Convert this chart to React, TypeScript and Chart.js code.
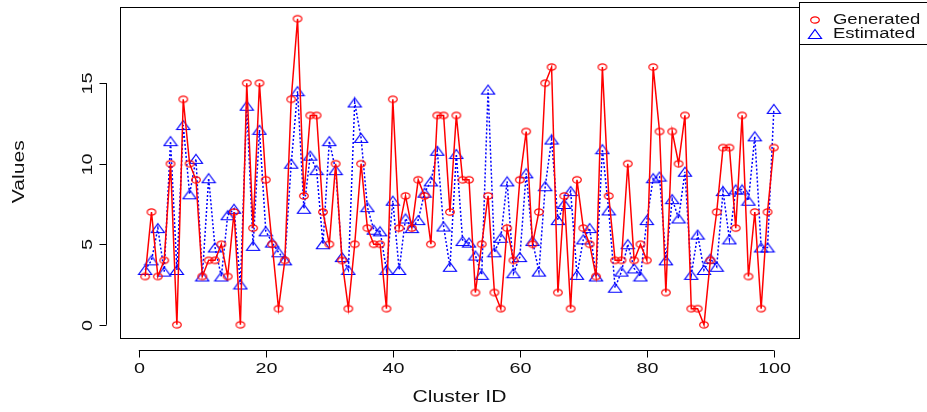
import React, { useEffect, useRef } from "react";
import { Chart, registerables } from "chart.js";

Chart.register(...registerables);

const clusterIds = [
  1, 2, 3, 4, 5, 6, 7, 8, 9, 10, 11, 12, 13, 14, 15, 16, 17, 18, 19, 20,
  21, 22, 23, 24, 25, 26, 27, 28, 29, 30, 31, 32, 33, 34, 35, 36, 37, 38, 39, 40,
  41, 42, 43, 44, 45, 46, 47, 48, 49, 50, 51, 52, 53, 54, 55, 56, 57, 58, 59, 60,
  61, 62, 63, 64, 65, 66, 67, 68, 69, 70, 71, 72, 73, 74, 75, 76, 77, 78, 79, 80,
  81, 82, 83, 84, 85, 86, 87, 88, 89, 90, 91, 92, 93, 94, 95, 96, 97, 98, 99, 100,
];

const generated = [
  3, 7, 3, 4, 10, 0, 14, 10, 9, 3, 4, 4, 5, 3, 7, 0, 15, 6, 15, 9,
  5, 1, 4, 14, 19, 8, 13, 13, 7, 5, 10, 4, 1, 5, 10, 6, 5, 5, 1, 14,
  6, 8, 6, 9, 8, 5, 13, 13, 7, 13, 9, 9, 2, 5, 8, 2, 1, 6, 4, 9,
  12, 5, 7, 15, 16, 2, 8, 1, 9, 6, 5, 3, 16, 8, 4, 4, 10, 4, 5, 4,
  16, 12, 2, 12, 10, 13, 1, 1, 0, 4, 7, 11, 11, 6, 13, 3, 7, 1, 7, 11,
];

const estimated = [
  3.4, 4.0, 6.0, 3.3, 11.4, 3.4, 12.4, 8.1, 10.3, 3.0, 9.1, 4.8, 3.0, 6.8, 7.2, 2.5, 13.6, 4.9, 12.1, 5.8,
  5.1, 4.5, 4.0, 10.0, 14.5, 7.2, 10.5, 9.6, 5.0, 11.4, 9.6, 4.2, 3.4, 13.8, 11.6, 7.3, 5.9, 5.8, 3.4, 7.7,
  3.4, 6.6, 6.0, 6.5, 8.2, 8.9, 10.8, 6.1, 3.6, 10.6, 5.2, 5.1, 4.3, 3.1, 14.6, 4.5, 5.4, 8.9, 3.2, 4.2,
  9.4, 5.2, 3.3, 8.6, 11.5, 6.5, 7.5, 8.3, 3.1, 5.3, 6.0, 3.0, 10.9, 7.1, 2.3, 3.3, 5.0, 3.5, 3.0, 6.5,
  9.1, 9.2, 4.0, 7.8, 6.6, 9.5, 3.1, 5.6, 3.4, 4.1, 3.6, 8.3, 5.3, 8.4, 8.4, 7.7, 11.7, 4.8, 4.8, 13.4,
];

const xTicks = [0, 20, 40, 60, 80, 100];
const yTicks = [0, 5, 10, 15];
const seriesNames = ["Generated", "Estimated"];
const xTitle = "Cluster ID";
const yTitle = "Values";

const RED = "#ff0000";
const BLUE = "#0000ff";
const FONT = "'Liberation Sans', Arial, sans-serif";
const STRETCH = 1.32;

function makeCircle(color: string) {
  const c = document.createElement("canvas");
  c.width = 12;
  c.height = 10;
  const ctx = c.getContext("2d")!;
  ctx.strokeStyle = color;
  ctx.lineWidth = 1.2;
  ctx.beginPath();
  ctx.ellipse(6, 5, 4.3, 3.2, 0, 0, Math.PI * 2);
  ctx.stroke();
  return c;
}

function makeTriangle(color: string) {
  const c = document.createElement("canvas");
  c.width = 16;
  c.height = 12;
  const ctx = c.getContext("2d")!;
  ctx.strokeStyle = color;
  ctx.lineWidth = 1.2;
  ctx.beginPath();
  ctx.moveTo(8, 1.5);
  ctx.lineTo(14.5, 10.5);
  ctx.lineTo(1.5, 10.5);
  ctx.closePath();
  ctx.stroke();
  return c;
}

function stretchedText(
  ctx: CanvasRenderingContext2D,
  text: string,
  x: number,
  y: number,
  align: CanvasTextAlign,
  rotate = 0
) {
  ctx.save();
  ctx.translate(x, y);
  if (rotate) ctx.rotate(rotate);
  ctx.scale(STRETCH, 1);
  ctx.textAlign = align;
  ctx.textBaseline = "middle";
  ctx.fillText(text, 0, 0);
  ctx.restore();
}

export default function App() {
  const ref = useRef<HTMLCanvasElement>(null);

  useEffect(() => {
    const canvas = ref.current!;
    const circle = makeCircle(RED);
    const tri = makeTriangle(BLUE);
    const circleLegend = makeCircle(RED);
    const triLegend = makeTriangle(BLUE);

    const rAxes = {
      id: "rAxes",
      afterDraw(chart: any) {
        const ctx: CanvasRenderingContext2D = chart.ctx;
        const { left, right, top, bottom } = chart.chartArea;
        const xs = chart.scales.x;
        const ys = chart.scales.y;
        ctx.save();
        ctx.strokeStyle = "#000";
        ctx.fillStyle = "#111";
        ctx.lineWidth = 1;
        // box
        ctx.strokeRect(Math.round(left) + 0.5, Math.round(top) + 0.5, Math.round(right - left), Math.round(bottom - top));
        // x axis
        const ax = Math.round(bottom) + 13.5;
        ctx.beginPath();
        ctx.moveTo(xs.getPixelForValue(xTicks[0]), ax);
        ctx.lineTo(xs.getPixelForValue(xTicks[xTicks.length - 1]), ax);
        ctx.stroke();
        ctx.font = `15px ${FONT}`;
        xTicks.forEach((t) => {
          const px = Math.round(xs.getPixelForValue(t)) + 0.5;
          ctx.beginPath();
          ctx.moveTo(px, ax);
          ctx.lineTo(px, ax + 7);
          ctx.stroke();
          stretchedText(ctx, String(t), px, ax + 18, "center");
        });
        // y axis
        const ay = Math.round(left) - 13.5;
        ctx.beginPath();
        ctx.moveTo(ay, ys.getPixelForValue(yTicks[0]));
        ctx.lineTo(ay, ys.getPixelForValue(yTicks[yTicks.length - 1]));
        ctx.stroke();
        yTicks.forEach((t) => {
          const py = Math.round(ys.getPixelForValue(t)) + 0.5;
          ctx.beginPath();
          ctx.moveTo(ay, py);
          ctx.lineTo(ay - 7, py);
          ctx.stroke();
          stretchedText(ctx, String(t), ay - 19, py, "center", -Math.PI / 2);
        });
        // titles
        ctx.font = `16px ${FONT}`;
        stretchedText(ctx, xTitle, (left + right) / 2, 398, "center");
        stretchedText(ctx, yTitle, 20, (top + bottom) / 2, "center", -Math.PI / 2);
        // legend
        const lx = Math.round(right) + 0.5;
        ctx.strokeRect(lx, 2.5, 200, 42);
        ctx.font = `14px ${FONT}`;
        ctx.drawImage(circleLegend, 815 - 6, 20 - 5);
        ctx.drawImage(triLegend, 815 - 8, 34 - 6);
        stretchedText(ctx, seriesNames[0], 833, 20, "left");
        stretchedText(ctx, seriesNames[1], 833, 34, "left");
        ctx.restore();
      },
    };

    const chart = new Chart(canvas, {
      type: "line",
      data: {
        datasets: [
          {
            label: seriesNames[0],
            data: clusterIds.map((x, i) => ({ x, y: generated[i] })),
            borderColor: RED,
            borderWidth: 1.5,
            pointStyle: circle as any,
            pointRadius: 4,
            tension: 0,
          },
          {
            label: seriesNames[1],
            data: clusterIds.map((x, i) => ({ x, y: estimated[i] })),
            borderColor: BLUE,
            borderWidth: 1.5,
            borderDash: [2, 2],
            pointStyle: tri as any,
            pointRadius: 5,
            tension: 0,
          },
        ],
      },
      options: {
        animation: false,
        responsive: false,
        events: [],
        layout: { padding: { left: 120, right: 128, top: 6, bottom: 75 } },
        plugins: { legend: { display: false }, tooltip: { enabled: false } },
        scales: {
          x: { type: "linear", min: -2.96, max: 103.96, display: false },
          y: { type: "linear", min: -0.76, max: 19.76, display: false },
        },
      },
      plugins: [rAxes],
    });
    return () => chart.destroy();
  }, []);

  return (
    <div style={{ position: "absolute", left: 0, top: 0, width: 927, height: 412, background: "#fff" }}>
      <canvas ref={ref} width={927} height={412} />
    </div>
  );
}
